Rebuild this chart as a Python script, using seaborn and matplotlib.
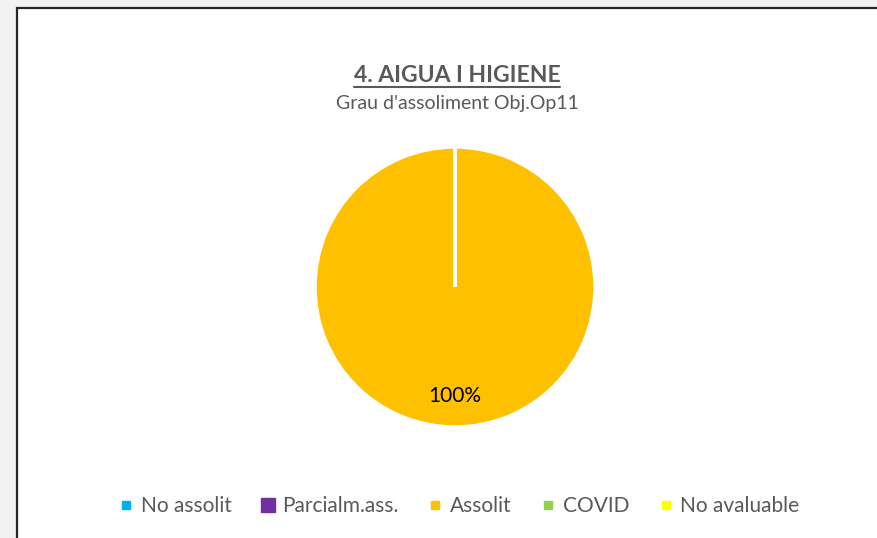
import matplotlib
matplotlib.use("Agg")
import matplotlib.pyplot as plt
import seaborn as sns
from matplotlib.lines import Line2D
from matplotlib.patches import Rectangle

# Data
categories = ["No assolit", "Parcialm.ass.", "Assolit", "COVID", "No avaluable"]
values = [0, 0, 100, 0, 0]
colors = ["#00B0F0", "#7030A0", "#FFC000", "#92D050", "#FFFF00"]
title = "4. AIGUA I HIGIENE"
subtitle = "Grau d'assoliment Obj.Op11"

sns.set_theme(style="white")
plt.rcParams["font.family"] = ["Lato", "DejaVu Sans"]

W, H = 877, 538
fig = plt.figure(figsize=(W / 100, H / 100), dpi=100)
fig.patch.set_facecolor("#F2F2F2")

# White chart area with dark border (extends past right and bottom edges)
fig.patches.append(Rectangle((17 / W, -0.1), 1.2, 1.1 - 8 / H,
                             transform=fig.transFigure, facecolor="white",
                             edgecolor="#262626", linewidth=1.6, zorder=-5))

# Pie axes
cx, cy, r = 455, 287, 140
ax = fig.add_axes([(cx - r) / W, (H - cy - r) / H, 2 * r / W, 2 * r / H])
wedges, texts, autotexts = ax.pie(
    values, colors=colors, startangle=90, counterclock=False,
    wedgeprops=dict(edgecolor="white", linewidth=2.5),
    autopct=lambda p: f"{p:.0f}%" if p > 0 else "",
    pctdistance=0.78,
    textprops=dict(fontsize=15, color="black"),
)
ax.set_xlim(-1, 1)
ax.set_ylim(-1, 1)
ax.set_aspect("equal")
ax.axis("off")

# Titles
t = fig.text(457 / W, 1 - 75 / H, title, ha="center", va="center",
             fontsize=16.5, fontweight="bold", color="#595959")
fig.text(457 / W, 1 - 104 / H, subtitle, ha="center", va="center",
         fontsize=14, color="#595959")

# Underline for the title
fig.canvas.draw()
bb = t.get_window_extent(renderer=fig.canvas.get_renderer())
uy = (bb.y0 - 1) / H
fig.add_artist(Line2D([bb.x0 / W, bb.x1 / W], [uy, uy], transform=fig.transFigure,
                      color="#595959", linewidth=1.5))

# Legend
sizes = [7, 13, 7, 7, 7]
handles = [Line2D([], [], marker="s", linestyle="none", markersize=s * 0.75,
                  markerfacecolor=c, markeredgecolor=c)
           for c, s in zip(colors, sizes)]
leg = fig.legend(handles, categories, loc="center", ncol=5,
                 bbox_to_anchor=(460 / W, 1 - 506 / H), frameon=False,
                 fontsize=15, handlelength=0.5, handletextpad=0.45,
                 columnspacing=1.5)
for txt in leg.get_texts():
    txt.set_color("#595959")

fig.savefig("out.png", dpi=100, facecolor=fig.get_facecolor())
